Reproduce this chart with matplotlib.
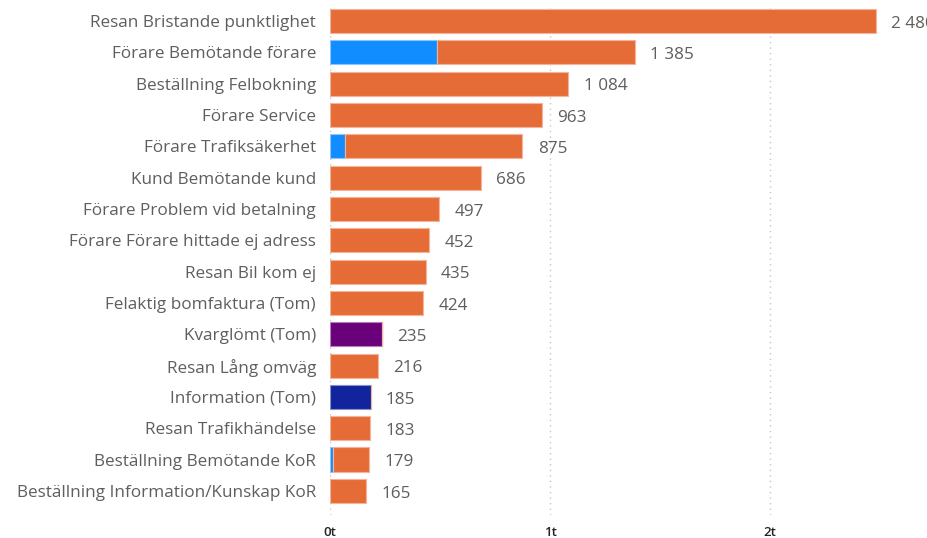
import numpy as np
import matplotlib
matplotlib.use('Agg')
from matplotlib import pyplot as plt

plt.rcParams['font.family'] = ['Open Sans', 'DejaVu Sans']

categories = ['Resan Bristande punktlighet', 'Förare Bemötande förare', 'Beställning Felbokning',
              'Förare Service', 'Förare Trafiksäkerhet', 'Kund Bemötande kund',
              'Förare Problem vid betalning', 'Förare Förare hittade ej adress', 'Resan Bil kom ej',
              'Felaktig bomfaktura (Tom)', 'Kvarglömt (Tom)', 'Resan Lång omväg',
              'Information (Tom)', 'Resan Trafikhändelse', 'Beställning Bemötande KoR',
              'Beställning Information/Kunskap KoR']
totals      = [2480, 1385, 1084, 963, 875, 686, 497, 452, 435, 424, 235, 216, 185, 183, 179, 165]
blue_part   = [0, 485, 0, 0, 70, 0, 0, 0, 0, 0, 0, 0, 0, 0, 12, 0]
purple_part = [0, 0, 0, 0, 0, 0, 0, 0, 0, 0, 235, 0, 0, 0, 0, 0]
navy_part   = [0, 0, 0, 0, 0, 0, 0, 0, 0, 0, 0, 0, 185, 0, 0, 0]
xticks      = [0, 1000, 2000]
xticklabels = ['0t', '1t', '2t']

tot    = np.array(totals)
blue   = np.array(blue_part)
purple = np.array(purple_part)
navy   = np.array(navy_part)
orange = tot - blue - purple - navy
y      = np.arange(len(categories))

fig = plt.figure(figsize=(9.27, 5.38), dpi=100)
ax  = fig.add_axes([330/927, 1-515/538, 1-330/927, (515-5.3)/538])

h  = 0.77
kw = dict(height=h, linewidth=0.8, zorder=2)
ax.barh(y, blue, color='#118DFF', edgecolor='#8CC6FF', **kw)
ax.barh(y, purple, left=blue, color='#6B007B', edgecolor='#B57FBD', **kw)
ax.barh(y, navy, left=blue+purple, color='#12239E', edgecolor='#8891CF', **kw)
ax.barh(y, orange, left=blue+purple+navy, color='#E66C37', edgecolor='#F2B59B', **kw)

for yi, v in zip(y, tot):
    ax.annotate(f'{v:,}'.replace(',', ' '), (v, yi), xytext=(11, -2), textcoords='offset points',
                va='center', ha='left', size=12.3, color='#605E5C', annotation_clip=False)

ax.set_xlim(0, 2714)
ax.set_ylim(15.77, -0.5)
ax.set_yticks(y)
ax.set_yticklabels(categories, size=12.3, color='#605E5C')
ax.set_xticks(xticks)
ax.set_xticklabels(xticklabels, size=9.5, color='#252423', fontweight='semibold')
ax.tick_params(length=0, pad=10)
ax.tick_params(axis='x', pad=8)
for t in xticks:
    ax.axvline(t, color='#C8C6C4', ls=(0, (1, 3)), lw=1, zorder=0)
for s in ax.spines.values():
    s.set_visible(False)

fig.savefig('out.png', dpi=100)
